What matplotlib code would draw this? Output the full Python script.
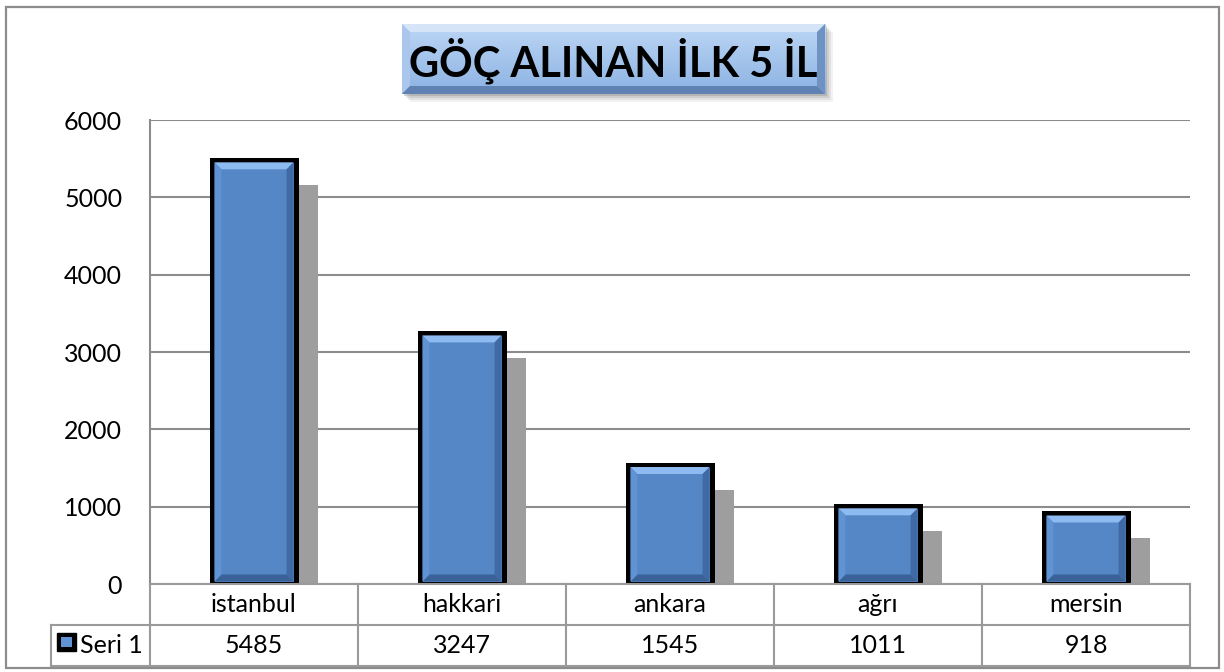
import numpy as np
import matplotlib
matplotlib.use("Agg")
import matplotlib.pyplot as plt
from matplotlib.patches import Rectangle, Polygon
from matplotlib.lines import Line2D
import matplotlib.transforms as mtransforms

cities = ["istanbul", "hakkari", "ankara", "ağrı", "mersin"]
values = [5485, 3247, 1545, 1011, 918]
series_name = "Seri 1"
title = "GÖÇ ALINAN İLK 5 İL"
yticks = [0, 1000, 2000, 3000, 4000, 5000, 6000]

W, H = 1224, 672
plt.rcParams['font.family'] = ['Lato', 'DejaVu Sans']
fig = plt.figure(figsize=(W / 100, H / 100), dpi=100)

def fx(px):
    return px / W
def fy(py):
    return 1 - py / H

FS = 18

# outer frame
fig.add_artist(Rectangle((fx(6), fy(668)), fx(1219) - fx(6), fy(7) - fy(668),
                         transform=fig.transFigure, fill=False, ec='#8c8c8c', lw=1.6))

# plot area
L, R, T, B = 150, 1190, 120, 584
ax = fig.add_axes([fx(L), fy(B), fx(R) - fx(L), fy(T) - fy(B)])
ax.set_xlim(-0.5, len(cities) - 0.5)
ax.set_ylim(0, 6000)
ax.set_yticks(yticks)
ax.set_yticklabels([str(v) for v in yticks], fontsize=FS)
ax.tick_params(axis='y', length=0, pad=20)
ax.set_xticks([])
for s in ['top', 'right', 'bottom']:
    ax.spines[s].set_visible(False)
ax.spines['left'].set_color('#8c8c8c')
ax.spines['left'].set_linewidth(1.5)
ax.yaxis.grid(True, color='#8c8c8c', lw=1.5)
ax.set_axisbelow(True)

x = np.arange(len(cities))
vals = np.array(values)
bw = 0.405
px_x = 1.0 / 208          # data units per pixel, x
px_y = 6000.0 / (B - T)   # data units per pixel, y

# shadows
ax.bar(x + 22 * px_x, vals - 25 * px_y, width=bw, color='#9e9e9e', zorder=2)
# bars
ax.bar(x, vals, width=bw, color='#5587c6', edgecolor='black', linewidth=3.6, zorder=3)

# bevel on bar faces
for xi, v in zip(x, vals):
    x0 = xi - bw / 2 + 2.5 * px_x
    x1 = xi + bw / 2 - 2.5 * px_x
    y0 = 2.5 * px_y
    y1 = v - 2.5 * px_y
    bx, by = 7 * px_x, 7 * px_y
    ax.add_patch(Polygon([(x0, y1), (x1, y1), (x1 - bx, y1 - by), (x0 + bx, y1 - by)],
                         closed=True, fc='#8dbaf0', ec='none', zorder=4))
    ax.add_patch(Polygon([(x1, y1), (x1, y0), (x1 - bx, y0 + by), (x1 - bx, y1 - by)],
                         closed=True, fc='#3f6aa3', ec='none', zorder=4))
    ax.add_patch(Polygon([(x0, y0), (x1, y0), (x1 - bx, y0 + by), (x0 + bx, y0 + by)],
                         closed=True, fc='#3a6298', ec='none', zorder=4))
    ax.add_patch(Polygon([(x0, y0), (x0, y1), (x0 + bx, y1 - by), (x0 + bx, y0 + by)],
                         closed=True, fc='#5f93d4', ec='none', zorder=4))

# data table below axis
tr = mtransforms.blended_transform_factory(ax.transData, fig.transFigure)
tc = '#9a9a9a'
row1, row2, row3 = 584, 625, 666
for i in range(len(cities) + 1):
    xe = i - 0.5
    fig.add_artist(Line2D([xe, xe], [fy(row1), fy(row3)], transform=tr, color=tc, lw=1.5))
fig.add_artist(Line2D([-0.5, len(cities) - 0.5], [fy(row1), fy(row1)], transform=tr, color=tc, lw=1.5))
fig.add_artist(Line2D([fx(51), fx(R)], [fy(row2), fy(row2)], transform=fig.transFigure, color=tc, lw=1.5))
fig.add_artist(Line2D([fx(51), fx(R)], [fy(row3), fy(row3)], transform=fig.transFigure, color=tc, lw=1.5))
fig.add_artist(Line2D([fx(51), fx(51)], [fy(row2), fy(row3)], transform=fig.transFigure, color=tc, lw=1.5))

for xi, c, v in zip(x, cities, values):
    fig.text(xi, fy((row1 + row2) / 2), c, transform=tr, ha='center', va='center', fontsize=FS)
    fig.text(xi, fy((row2 + row3) / 2), str(v), transform=tr, ha='center', va='center', fontsize=FS)

# legend key
fig.add_artist(Rectangle((fx(57), fy(651)), fx(76) - fx(57), fy(633) - fy(651),
                         transform=fig.transFigure, fc='black', ec='black'))
fig.add_artist(Rectangle((fx(61), fy(647)), fx(72) - fx(61), fy(637) - fy(647),
                         transform=fig.transFigure, fc='#5f93d4', ec='none'))
fig.text(fx(80), fy((row2 + row3) / 2), series_name, ha='left', va='center', fontsize=FS)

# title box with gradient and shadow
tl, tt, trr, tb = 402, 24, 825, 94
for k, a in zip(range(8, 0, -2), [0.10, 0.15, 0.2, 0.3]):
    fig.add_artist(Rectangle((fx(tl + k), fy(tb + k)), fx(trr) - fx(tl), fy(tt) - fy(tb),
                             transform=fig.transFigure, fc='#808080', ec='none', alpha=a, zorder=1))
tax = fig.add_axes([fx(tl), fy(tb), fx(trr) - fx(tl), fy(tt) - fy(tb)])
tax.set_zorder(5)
grad = np.linspace(0, 1, 100).reshape(-1, 1)
c_top = np.array([0.74, 0.84, 0.96])
c_bot = np.array([0.55, 0.70, 0.89])
img = c_top[None, None, :] * (1 - grad[:, :, None]) + c_bot[None, None, :] * grad[:, :, None]
tax.imshow(img, aspect='auto', extent=[0, 1, 0, 1])
tax.set_xlim(0, 1)
tax.set_ylim(0, 1)
tax.axis('off')
bwid, bhgt = 8 / (trr - tl), 8 / (tb - tt)
tax.add_patch(Polygon([(0, 1), (1, 1), (1 - bwid, 1 - bhgt), (bwid, 1 - bhgt)], fc='#d6e4f7', ec='none'))
tax.add_patch(Polygon([(0, 0), (0, 1), (bwid, 1 - bhgt), (bwid, bhgt)], fc='#aac6ec', ec='none'))
tax.add_patch(Polygon([(1, 0), (1, 1), (1 - bwid, 1 - bhgt), (1 - bwid, bhgt)], fc='#6f92c2', ec='none'))
tax.add_patch(Polygon([(0, 0), (1, 0), (1 - bwid, bhgt), (bwid, bhgt)], fc='#5f82b3', ec='none'))
tax.text(0.5, 0.47, title, ha='center', va='center', fontsize=30, fontweight='bold', color='black')

fig.savefig("out.png", dpi=100)
